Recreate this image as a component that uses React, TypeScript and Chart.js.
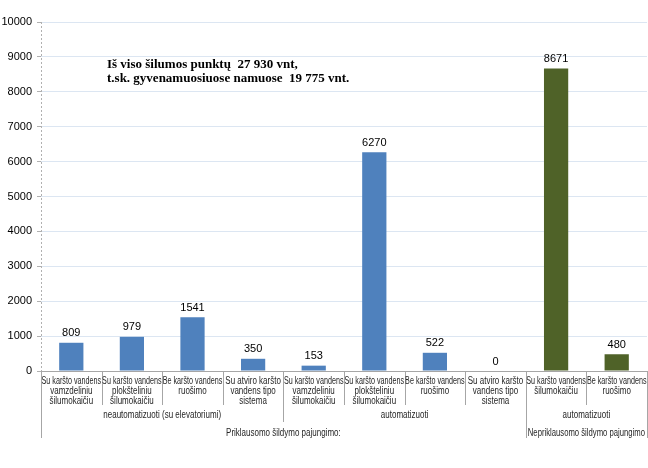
import React, { useEffect, useRef } from "react";
import { Chart, registerables } from "chart.js";

Chart.register(...registerables);

const categories: string[][] = [
  ["Su karšto vandens", "vamzdeliniu", "šilumokaičiu"],
  ["Su karšto vandens", "plokšteliniu", "šilumokaičiu"],
  ["Be karšto vandens", "ruošimo"],
  ["Su atviro karšto", "vandens tipo", "sistema"],
  ["Su karšto vandens", "vamzdeliniu", "šilumokaičiu"],
  ["Su karšto vandens", "plokšteliniu", "šilumokaičiu"],
  ["Be karšto vandens", "ruošimo"],
  ["Su atviro karšto", "vandens tipo", "sistema"],
  ["Su karšto vandens", "šilumokaičiu"],
  ["Be karšto vandens", "ruošimo"],
];

const values: number[] = [809, 979, 1541, 350, 153, 6270, 522, 0, 8671, 480];

const groupLevel2: { label: string; from: number; to: number }[] = [
  { label: "neautomatizuoti (su elevatoriumi)", from: 0, to: 3 },
  { label: "automatizuoti", from: 4, to: 7 },
  { label: "automatizuoti", from: 8, to: 9 },
];

const groupLevel3: { label: string; from: number; to: number }[] = [
  { label: "Priklausomo šildymo pajungimo:", from: 0, to: 7 },
  { label: "Nepriklausomo šildymo pajungimo", from: 8, to: 9 },
];

const titleLines: string[] = [
  "Iš viso šilumos punktų  27 930 vnt,",
  "t.sk. gyvenamuosiuose namuose  19 775 vnt.",
];

const BLUE = "#4F81BD";
const GREEN = "#4F6228";
const barColors = values.map((_, i) => (i >= 8 ? GREEN : BLUE));

const App: React.FC = () => {
  const ref = useRef<HTMLCanvasElement | null>(null);

  useEffect(() => {
    document.body.style.margin = "0";
    const canvas = ref.current;
    if (!canvas) return;

    const overlay = {
      id: "overlay",
      afterDraw(chart: any) {
        const ctx = chart.ctx as CanvasRenderingContext2D;
        const xs = chart.scales.x;
        const area = chart.chartArea;
        const axisY = area.bottom;
        const meta = chart.getDatasetMeta(0);

        ctx.save();
        // dotted y axis line
        ctx.strokeStyle = "#B0B0B0";
        ctx.lineWidth = 1;
        ctx.setLineDash([2, 2]);
        ctx.beginPath();
        ctx.moveTo(Math.round(area.left) + 0.5, area.top);
        ctx.lineTo(Math.round(area.left) + 0.5, area.bottom);
        ctx.stroke();
        ctx.setLineDash([]);

        // data labels
        ctx.font = "11px 'Liberation Sans', Arial, sans-serif";
        ctx.fillStyle = "#000";
        ctx.textAlign = "center";
        ctx.textBaseline = "bottom";
        meta.data.forEach((bar: any, i: number) => {
          ctx.fillText(String(values[i]), bar.x, bar.y - 4);
        });

        // category boundaries
        const edge = (i: number) => xs.getPixelForValue(i - 0.5);
        ctx.strokeStyle = "#A6A6A6";
        ctx.lineWidth = 1;
        const level2Starts = new Set(groupLevel2.map((g) => g.from));
        const level3Starts = new Set(groupLevel3.map((g) => g.from));
        for (let i = 0; i <= categories.length; i++) {
          let bottom = 405;
          if (i === 0 || i === categories.length || level3Starts.has(i)) bottom = 438;
          else if (level2Starts.has(i)) bottom = 422;
          const x = Math.round(edge(i)) + 0.5;
          ctx.beginPath();
          ctx.moveTo(x, axisY);
          ctx.lineTo(x, bottom);
          ctx.stroke();
        }

        // narrow text helper
        const SX = 0.8;
        const narrow = (t: string, cx: number, cy: number, maxW: number) => {
          ctx.save();
          ctx.translate(cx, cy);
          ctx.scale(SX, 1);
          ctx.fillText(t, 0, 0, maxW / SX);
          ctx.restore();
        };

        // category labels
        ctx.fillStyle = "#262626";
        ctx.font = "10px 'Liberation Sans', Arial, sans-serif";
        ctx.textBaseline = "middle";
        ctx.textAlign = "center";
        categories.forEach((lines, i) => {
          const cx = xs.getPixelForValue(i);
          const w = edge(i + 1) - edge(i) - 1;
          lines.forEach((t, j) => {
            narrow(t, cx, 381 + j * 10, w);
          });
        });
        groupLevel2.forEach((g) => {
          const cx = (edge(g.from) + edge(g.to + 1)) / 2;
          narrow(g.label, cx, 415, edge(g.to + 1) - edge(g.from) - 4);
        });
        groupLevel3.forEach((g) => {
          const cx = (edge(g.from) + edge(g.to + 1)) / 2;
          narrow(g.label, cx, 433, edge(g.to + 1) - edge(g.from) - 4);
        });

        // title text
        ctx.font = "bold 13px 'Liberation Serif', 'Times New Roman', serif";
        ctx.fillStyle = "#000";
        ctx.textAlign = "left";
        titleLines.forEach((t, j) => {
          ctx.fillText(t, 107, 65 + j * 14);
        });
        ctx.restore();
      },
    };

    const chart = new Chart(canvas, {
      type: "bar",
      data: {
        labels: categories.map((c) => c.join(" ")),
        datasets: [
          {
            data: values,
            backgroundColor: barColors,
            borderWidth: 0,
            barPercentage: 0.4,
            categoryPercentage: 1,
          },
        ],
      },
      options: {
        responsive: false,
        animation: false,
        layout: { padding: { top: 22, right: 1, left: 0, bottom: 0 } },
        plugins: {
          legend: { display: false },
          tooltip: { enabled: false },
          title: { display: false },
        },
        scales: {
          x: {
            grid: { display: false },
            ticks: { display: false },
            border: { display: true, color: "#A6A6A6" },
            afterFit: (s: any) => {
              s.height = 97;
            },
          },
          y: {
            min: 0,
            max: 10000,
            ticks: {
              stepSize: 1000,
              color: "#000",
              padding: 5,
              font: { size: 11, family: "'Liberation Sans', Arial, sans-serif" },
              callback: (v: any) => String(v),
            },
            grid: {
              color: "#DCE6F2",
              tickColor: "#B0B0B0",
              tickLength: 4,
            },
            border: { display: false },
            afterFit: (s: any) => {
              s.width = 41;
            },
          },
        },
      },
      plugins: [overlay],
    });

    return () => chart.destroy();
  }, []);

  return (
    <div style={{ width: 648, height: 468 }}>
      <canvas ref={ref} width={648} height={468} />
    </div>
  );
};

export default App;
